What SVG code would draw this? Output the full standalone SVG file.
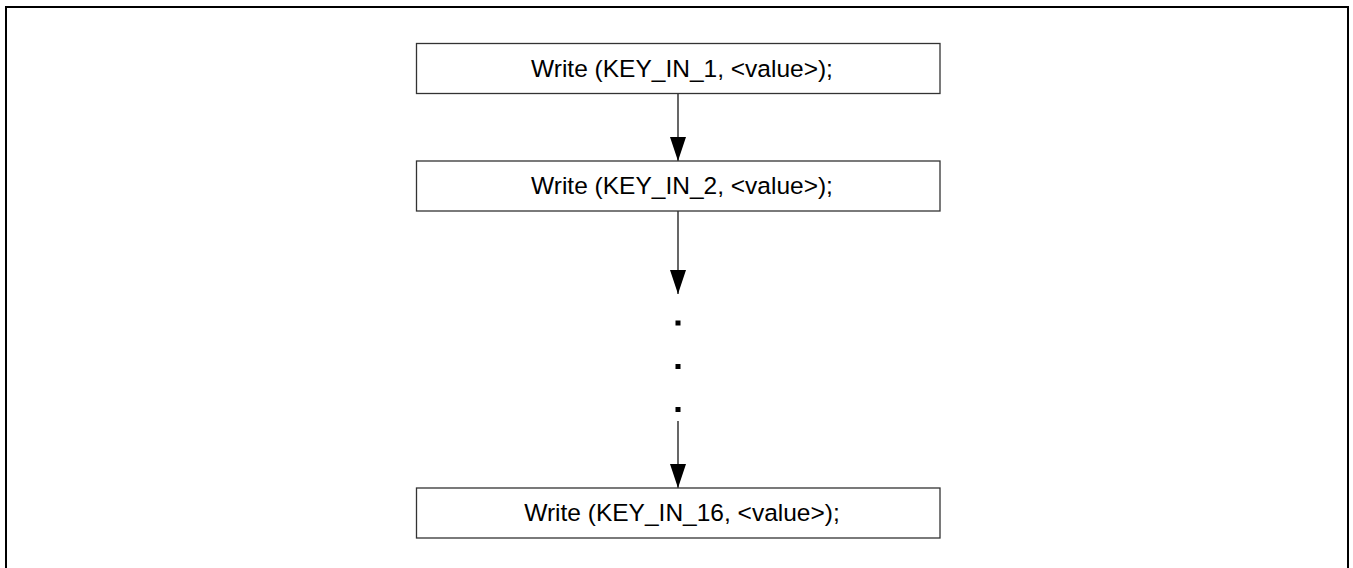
<svg xmlns="http://www.w3.org/2000/svg" width="1353" height="568" viewBox="0 0 1353 568">
<style>
.box{fill:#fff;stroke:#333;stroke-width:1.3}
.lbl{font-family:"Liberation Sans",Arial,sans-serif;font-size:24.5px;fill:#000;text-anchor:middle}
.conn{stroke:#000;stroke-width:1.2;fill:none}
</style>
<defs>
<marker id="ah" markerUnits="userSpaceOnUse" markerWidth="24" markerHeight="16" refX="24" refY="8" orient="auto" viewBox="0 0 24 16">
<path d="M0,0 L24,8 L0,16 Z" fill="#000"/>
</marker>
</defs>
<rect x="6" y="7" width="1342" height="575" fill="none" stroke="#000" stroke-width="2"/>
<g id="connectors">
<line class="conn" x1="678" y1="93" x2="678" y2="161" marker-end="url(#ah)"/>
<line class="conn" x1="678" y1="211" x2="678" y2="294" marker-end="url(#ah)"/>
<line class="conn" x1="678" y1="421" x2="678" y2="488" marker-end="url(#ah)"/>
<rect x="675.5" y="320.5" width="5" height="5" fill="#000"/>
<rect x="675.5" y="364" width="5" height="5" fill="#000"/>
<rect x="675.5" y="407" width="5" height="5" fill="#000"/>
</g>
<g id="node1">
<rect class="box" x="416.5" y="43.5" width="523.5" height="50"/>
<text class="lbl" x="682" y="77">Write (KEY_IN_1, &lt;value&gt;);</text>
</g>
<g id="node2">
<rect class="box" x="416.5" y="161" width="523.5" height="50"/>
<text class="lbl" x="682" y="194">Write (KEY_IN_2, &lt;value&gt;);</text>
</g>
<g id="node3">
<rect class="box" x="416.5" y="488" width="523.5" height="50"/>
<text class="lbl" x="682" y="521">Write (KEY_IN_16, &lt;value&gt;);</text>
</g>
</svg>
